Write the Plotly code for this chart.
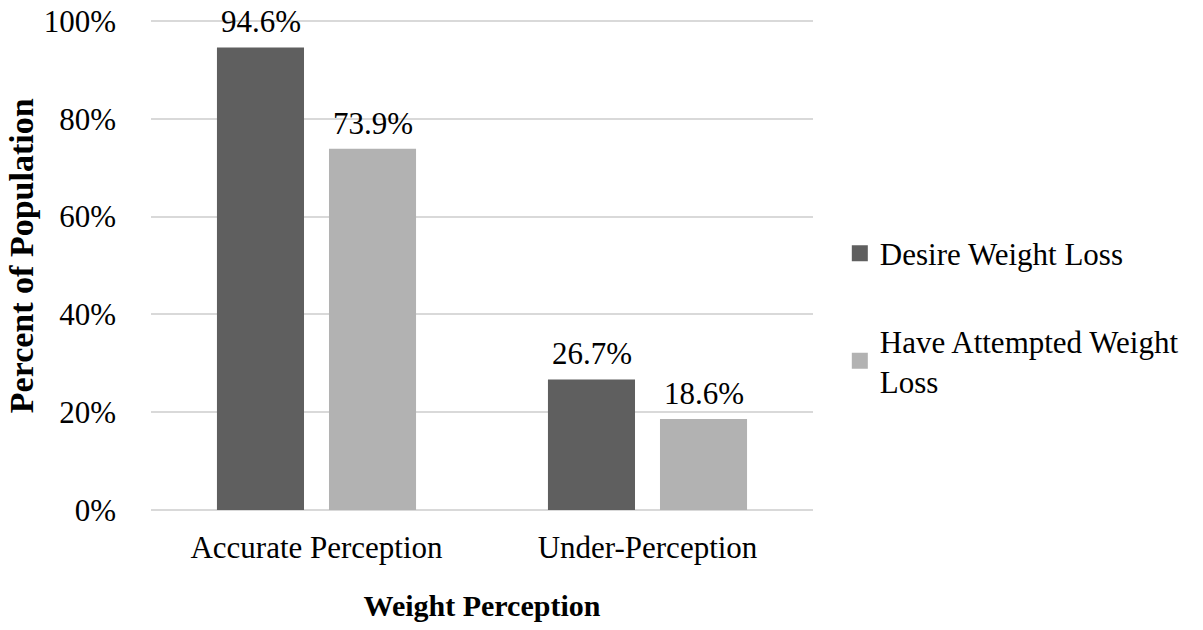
import plotly.graph_objects as go

# Survey results by weight perception group
categories = ["Accurate Perception", "Under-Perception"]
desire_loss = [0.946, 0.267]
attempted_loss = [0.739, 0.186]
series_names = ["Desire Weight Loss", "Have Attempted Weight<br>Loss"]
tick_values = [0, 0.2, 0.4, 0.6, 0.8, 1.0]
tick_labels = ["0%", "20%", "40%", "60%", "80%", "100%"]

FONT = "Liberation Serif, Times New Roman, serif"
colors = ["#5f5f5f", "#b2b2b2"]
# horizontal pixel offset of each series from its category centre
series_shift = [-56, 56]

fig = go.Figure()
for i, (name, vals) in enumerate(zip(series_names, [desire_loss, attempted_loss])):
    fig.add_trace(go.Bar(
        x=categories,
        y=vals,
        name=name,
        showlegend=False,
        marker=dict(color=colors[i], line=dict(width=0)),
    ))
    # square swatch for the legend entry
    fig.add_trace(go.Scatter(
        x=[None], y=[None],
        mode="markers",
        name=name,
        legendgroup=f"g{i}",
        marker=dict(symbol="square", size=16, color=colors[i]),
    ))
    # value labels above each bar
    for cat, v in zip(categories, vals):
        fig.add_annotation(
            x=cat, y=v, xref="x", yref="y",
            text=f"{v * 100:.1f}%",
            showarrow=False,
            xshift=series_shift[i], yshift=6,
            yanchor="bottom",
            font=dict(family=FONT, size=31, color="#000000"),
        )

# vertical axis title
fig.add_annotation(
    x=-0.1964, y=0.519, xref="paper", yref="paper",
    text="<b>Percent of Population</b>",
    textangle=-90, showarrow=False,
    xanchor="center", yanchor="middle",
    font=dict(family=FONT, size=34, color="#000000"),
)

fig.update_layout(
    width=1203,
    height=630,
    margin=dict(l=151, r=390, t=19, b=120, autoexpand=False),
    paper_bgcolor="white",
    plot_bgcolor="white",
    barmode="group",
    bargap=0.323,
    bargroupgap=0.223,
    font=dict(family=FONT, size=31, color="#000000"),
    showlegend=True,
    legend=dict(
        x=1.0405, y=0.393, xanchor="left", yanchor="middle",
        font=dict(family=FONT, size=31, color="#000000"),
        tracegroupgap=44,
        bgcolor="rgba(0,0,0,0)",
    ),
    xaxis=dict(
        showgrid=False,
        showline=False,
        ticks="",
        ticklabelstandoff=16,
        title=dict(text="<b>Weight Perception</b>", font=dict(family=FONT, size=30), standoff=30),
        tickfont=dict(family=FONT, size=31),
    ),
    yaxis=dict(
        range=[0, 1.0041],
        tickvals=tick_values,
        ticktext=tick_labels,
        showgrid=True,
        gridcolor="#d9d9d9",
        gridwidth=2,
        zeroline=True,
        zerolinecolor="#d9d9d9",
        zerolinewidth=2,
        showline=False,
        ticks="",
        ticklabelstandoff=34,
        tickfont=dict(family=FONT, size=31),
    ),
)

fig.write_html("out.html")
